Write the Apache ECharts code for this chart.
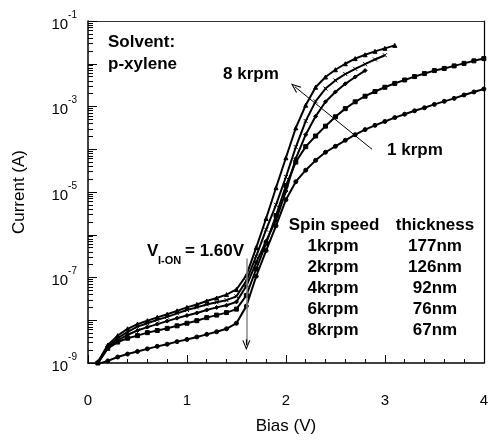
<!DOCTYPE html>
<html><head><meta charset="utf-8">
<script src="https://cdn.jsdelivr.net/npm/echarts@6/dist/echarts.min.js"></script>
<style>html,body{margin:0;padding:0;background:#fff}#c{width:491px;height:440px}</style>
</head><body><div id="c"></div>
<script>
// Bias (V), measurement grid
const bias = [0.1,0.2,0.3,0.4,0.5,0.6,0.7,0.8,0.9,1.0,1.1,1.2,1.3,1.4,1.5,1.6,1.7,1.8,1.9,2.0,
              2.1,2.2,2.3,2.4,2.5,2.6,2.7,2.8,2.9,3.0,3.1,3.2,3.3,3.4,3.5,3.6,3.7,3.8,3.9,4.0];
// Current (A) for each spin speed
const current1k = [9.55e-10,1.12e-9,1.38e-9,1.62e-9,1.86e-9,2.14e-9,2.45e-9,2.75e-9,3.16e-9,3.55e-9,
                   4.07e-9,4.68e-9,5.37e-9,6.31e-9,8.51e-9,2.14e-8,1.07e-7,4.27e-7,1.62e-6,6.61e-6,
                   1.74e-5,3.24e-5,5.50e-5,8.51e-5,1.17e-4,1.62e-4,2.19e-4,2.88e-4,3.63e-4,4.47e-4,
                   5.50e-4,6.61e-4,7.94e-4,9.33e-4,1.12e-3,1.32e-3,1.55e-3,1.86e-3,2.19e-3,2.57e-3];
const current2k = [1.00e-9,2.19e-9,3.09e-9,3.80e-9,4.37e-9,5.13e-9,5.75e-9,6.46e-9,7.41e-9,8.51e-9,
                   9.77e-9,1.15e-8,1.32e-8,1.51e-8,1.82e-8,3.80e-8,1.58e-7,6.31e-7,2.82e-6,1.41e-5,
                   5.01e-5,1.15e-4,2.04e-4,3.47e-4,5.75e-4,8.91e-4,1.29e-3,1.74e-3,2.24e-3,2.82e-3,
                   3.47e-3,4.17e-3,5.01e-3,5.89e-3,6.92e-3,7.76e-3,8.91e-3,1.02e-2,1.17e-2,1.32e-2];
const current4k = [1.00e-9,2.29e-9,3.39e-9,4.57e-9,5.75e-9,6.92e-9,8.13e-9,9.55e-9,1.12e-8,1.29e-8,
                   1.48e-8,1.74e-8,2.00e-8,2.24e-8,2.69e-8,6.31e-8,2.24e-7,7.08e-7,2.19e-6,1.05e-5,
                   6.03e-5,2.19e-4,5.89e-4,1.29e-3,2.19e-3,3.39e-3,4.90e-3,6.92e-3];
const current6k = [1.00e-9,2.40e-9,3.80e-9,5.37e-9,7.08e-9,8.51e-9,1.02e-8,1.20e-8,1.45e-8,1.74e-8,
                   2.00e-8,2.34e-8,2.63e-8,2.95e-8,3.63e-8,8.32e-8,3.16e-7,1.32e-6,5.01e-6,2.24e-5,
                   1.12e-4,4.57e-4,1.32e-3,2.63e-3,4.07e-3,5.75e-3,7.59e-3,9.77e-3,1.26e-2,1.58e-2];
const current8k = [1.07e-9,2.63e-9,4.37e-9,6.31e-9,8.13e-9,9.77e-9,1.17e-8,1.38e-8,1.66e-8,2.00e-8,
                   2.34e-8,2.82e-8,3.31e-8,3.98e-8,5.25e-8,1.12e-7,5.01e-7,2.40e-6,1.26e-5,6.31e-5,
                   3.16e-4,1.07e-3,2.82e-3,4.90e-3,7.24e-3,1.00e-2,1.32e-2,1.62e-2,1.95e-2,2.29e-2,2.69e-2];
const spinSpeeds = ['1krpm','2krpm','4krpm','6krpm','8krpm'];
const thicknesses = ['177nm','126nm','92nm','76nm','67nm'];
const xTickValues = [0,1,2,3,4];
// annotation anchors (data space)
const vOn = 1.6;
const vOnArrow = [2.8e-7, 2.6e-9];
const speedArrow = [[2.87, 1.0e-4],[2.09, 2.9e-3]];

const FONT = 'Liberation Sans';
const chevron = 'path://M0,10L5,0L10,10L8.6,10L5,2.8L1.4,10Z';
const crossPath = 'path://M0,0L10,10M10,0L0,10';

function mk(name, cur, symbol, extra) {
  return Object.assign({
    name, type:'line', data: cur.map((c,i)=>[bias[i], c]),
    symbol, symbolSize: 4, showSymbol:true,
    lineStyle:{color:'#000', width:2}, itemStyle:{color:'#000', borderColor:'#000', borderWidth:1},
    animation:false, z:3
  }, extra||{});
}

const chart = echarts.init(document.getElementById('c'), null, {renderer:'canvas'});
const boldText = (text, x, y, align) => ({type:'text', x, y, silent:true,
  style:{text, fill:'#000', font:'bold 17px "'+FONT+'"', textAlign:align||'left', textVerticalAlign:'middle'}});

const graphics = [
  boldText('Solvent:', 108, 42),
  boldText('p-xylene', 108, 64),
  boldText('8 krpm', 223, 74),
  boldText('1 krpm', 387, 150),
  boldText('Spin speed', 334, 225, 'center'),
  boldText('thickness', 435, 225, 'center'),
  boldText('V', 147, 251),
  {type:'text', x:158, y:261, silent:true, style:{text:'I-ON', fill:'#000', font:'bold 11px "'+FONT+'"', textVerticalAlign:'middle'}},
  boldText('= 1.60V', 185, 251)
];
spinSpeeds.forEach((s,i) => {
  graphics.push(boldText(s, 333, 246 + i*21.2, 'center'));
  graphics.push(boldText(thicknesses[i], 435, 246 + i*21.2, 'center'));
});

const frameAxis = (extra) => Object.assign({
  axisLine:{show:true, onZero:false, lineStyle:{color:'#333', width:1.2}},
  axisTick:{show:false}, axisLabel:{show:false}, splitLine:{show:false}
}, extra);

chart.setOption({
  animation:false,
  backgroundColor:'#fff',
  grid:{left:88, right:4, top:21, bottom:70},
  xAxis:[{
    type:'value', min:0, max:4, interval:1,
    name:'Bias (V)', nameLocation:'middle', nameGap:55,
    nameTextStyle:{fontSize:17, fontFamily:FONT, color:'#000'},
    axisLine:{show:true, onZero:false, lineStyle:{color:'#000', width:1.5}},
    axisTick:{show:true, inside:true, length:8, lineStyle:{color:'#000', width:1}},
    minorTick:{show:true, splitNumber:5, length:4, lineStyle:{color:'#000', width:1}},
    splitLine:{show:false}, minorSplitLine:{show:false},
    axisLabel:{margin:30, fontSize:15, fontFamily:FONT, color:'#000',
      formatter: v => xTickValues.includes(v) ? String(v) : ''}
  }, frameAxis({type:'value', min:0, max:4, position:'top'})],
  yAxis:[{
    type:'log', logBase:10, min:1e-9, max:1e-1, splitNumber:8,
    name:'Current (A)', nameLocation:'middle', nameGap:60,
    nameTextStyle:{fontSize:17, fontFamily:FONT, color:'#000'},
    axisLine:{show:true, onZero:false, lineStyle:{color:'#000', width:1.5}},
    axisTick:{show:true, inside:true, length:9, lineStyle:{color:'#000', width:1}},
    minorTick:{show:true, splitNumber:9, length:5, lineStyle:{color:'#000', width:1}},
    splitLine:{show:false}, minorSplitLine:{show:false},
    axisLabel:{margin:11, color:'#000',
      formatter: v => { const e = Math.round(Math.log10(v)); return (e % 2) ? '{b|10}{s|' + e + '}' : ''; },
      rich:{ b:{fontSize:15, fontFamily:FONT, color:'#000', lineHeight:22, verticalAlign:'bottom'},
             s:{fontSize:10, fontFamily:FONT, color:'#000', lineHeight:22, verticalAlign:'top'} } }
  }, frameAxis({type:'value', min:0, max:1, position:'right', axisLine:{show:true, onZero:false, lineStyle:{color:'#000', width:1.2}}})],
  series:[
    mk('1krpm', current1k, 'circle', {
      markLine:{silent:true, animation:false, label:{show:false}, symbol:['none', chevron], symbolSize:[8,10],
        data:[
          [{coord:[vOn, vOnArrow[0]], symbol:'none', lineStyle:{color:'#888', width:1.5, type:'solid'}},
           {coord:[vOn, vOnArrow[1]], symbol:'none'}],
          [{coord:[vOn, 3.6e-9], lineStyle:{color:'#000', width:1.2, type:'solid'}},
           {coord:[vOn, vOnArrow[1]]}],
          [{coord:speedArrow[0], lineStyle:{color:'#000', width:1, type:'solid'}},
           {coord:speedArrow[1]}]
        ]}
    }),
    mk('2krpm', current2k, 'rect'),
    mk('4krpm', current4k, 'diamond'),
    mk('6krpm', current6k, crossPath, {symbolSize:4}),
    mk('8krpm', current8k, 'triangle')
  ],
  graphic: graphics
});
</script></body></html>
